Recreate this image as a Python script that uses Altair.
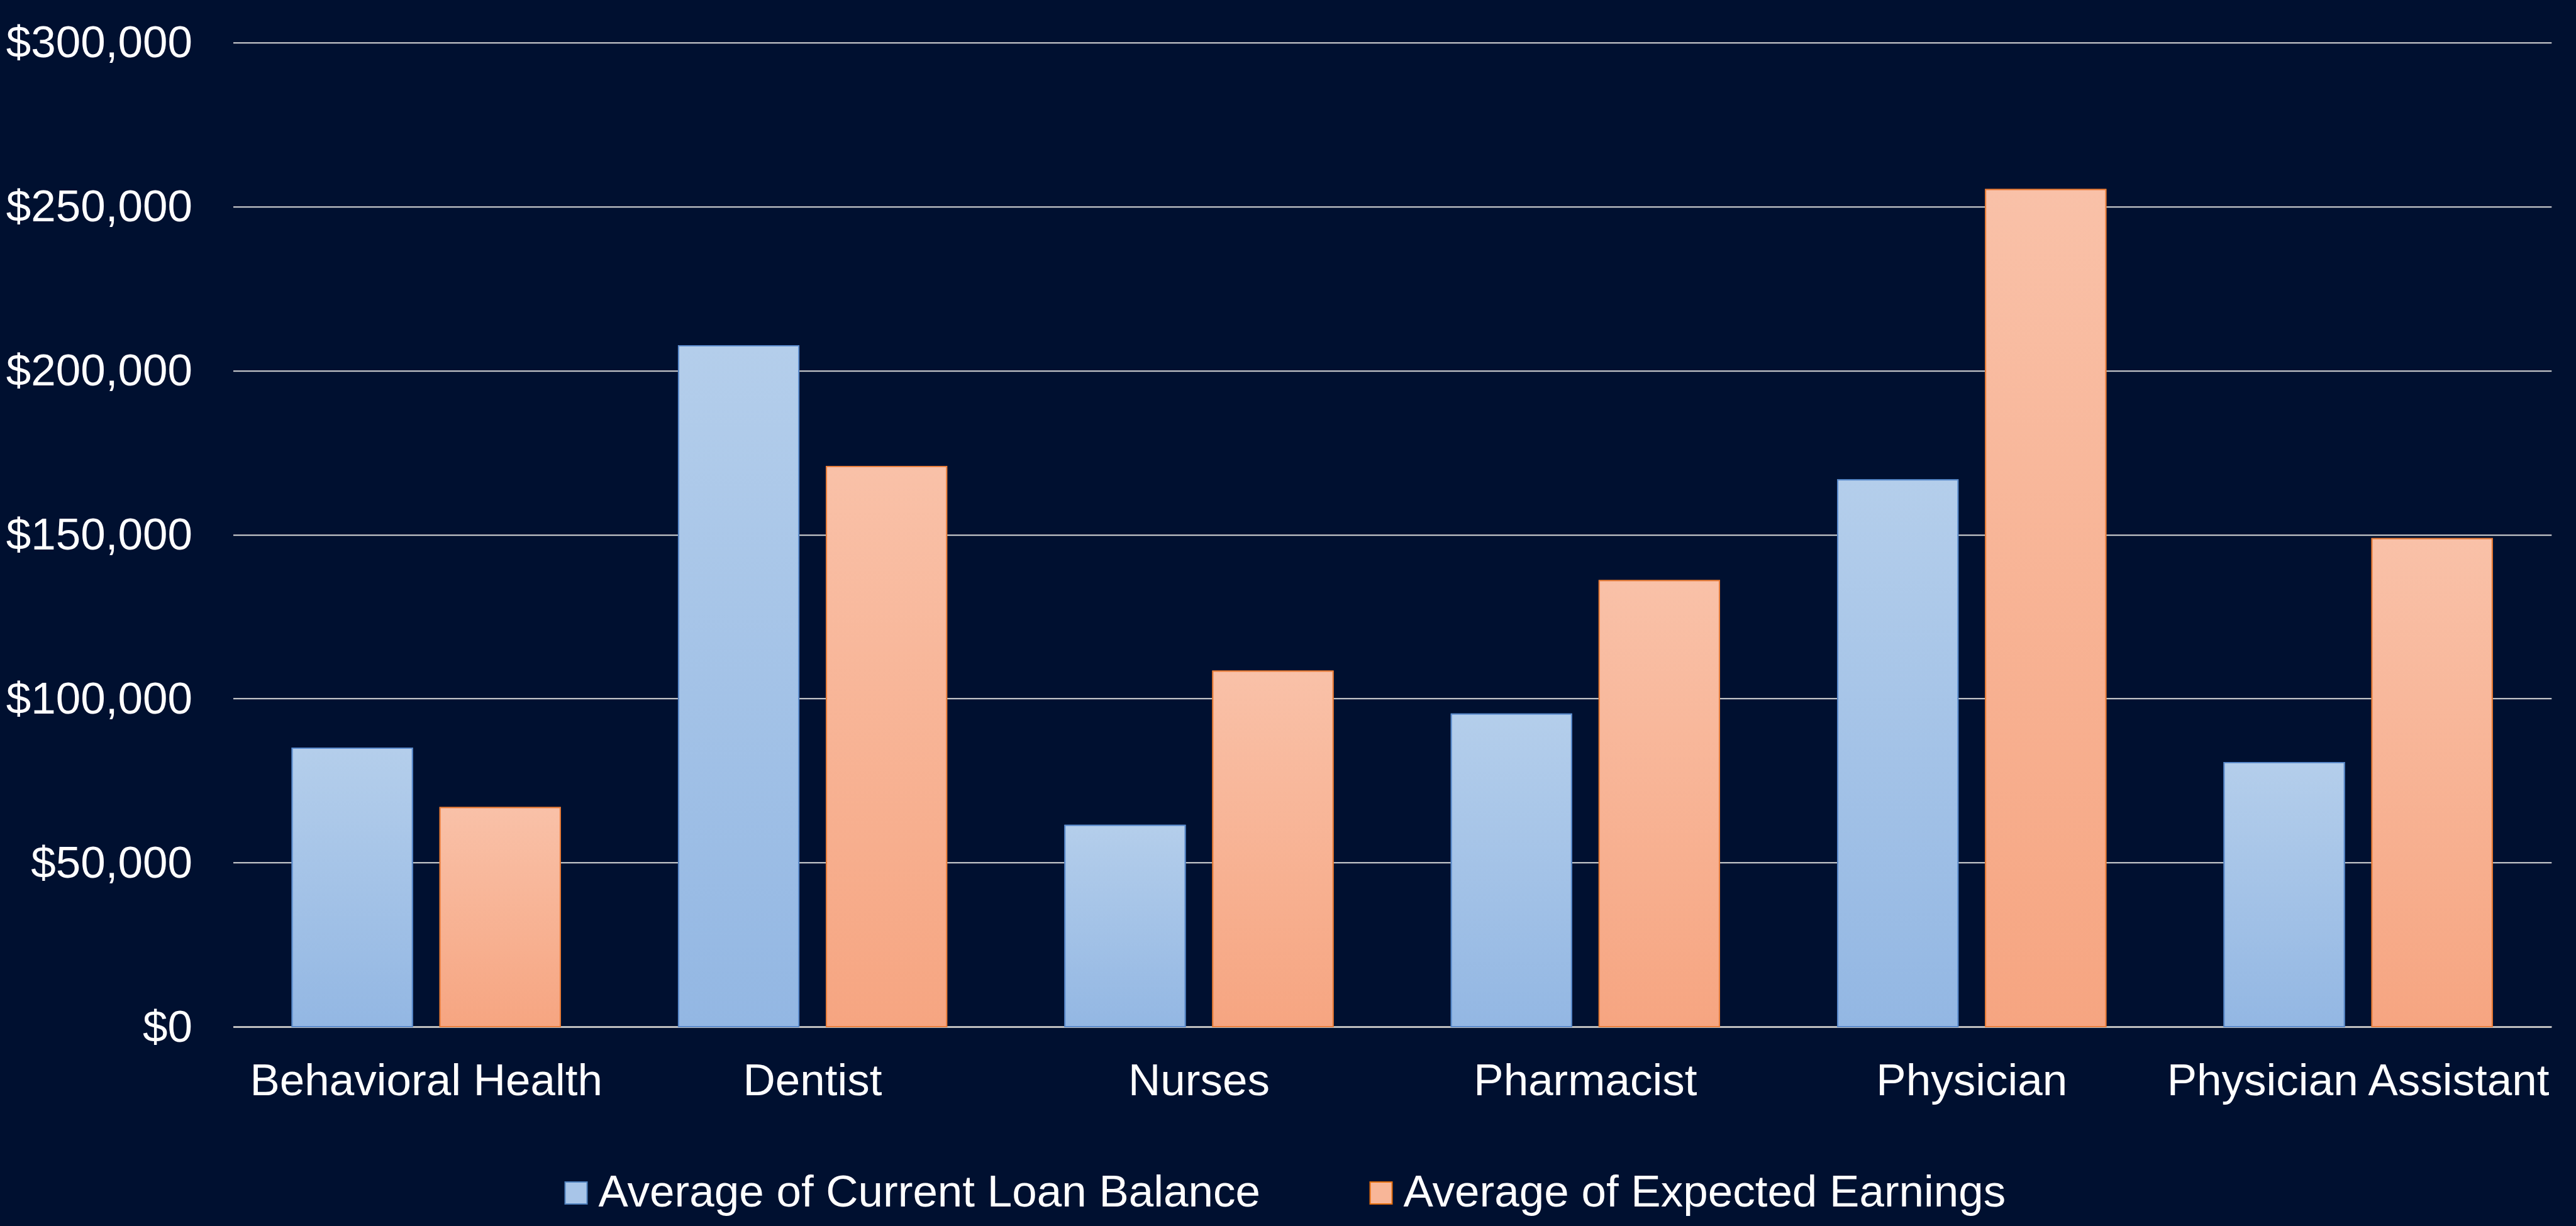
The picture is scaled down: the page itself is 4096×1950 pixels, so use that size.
import altair as alt
import pandas as pd

categories = ["Behavioral Health", "Dentist", "Nurses", "Pharmacist", "Physician", "Physician Assistant"]
series_names = ["Average of Current Loan Balance", "Average of Expected Earnings"]
loan_balance = [84900, 207600, 61400, 95300, 166700, 80500]
expected_earnings = [66800, 170800, 108400, 136000, 255200, 148800]
y_ticks = [0, 50000, 100000, 150000, 200000, 250000, 300000]

rows = []
for c, a, b in zip(categories, loan_balance, expected_earnings):
    rows.append({"category": c, "series": series_names[0], "value": a})
    rows.append({"category": c, "series": series_names[1], "value": b})
df = pd.DataFrame(rows)

FONT = "Liberation Sans"
FS = 71
BG = "#001030"

blue_grad = {"gradient": "linear", "x1": 0, "y1": 0, "x2": 0, "y2": 1,
             "stops": [{"offset": 0, "color": "#B4CEEB"}, {"offset": 1, "color": "#93B7E3"}]}
orange_grad = {"gradient": "linear", "x1": 0, "y1": 0, "x2": 0, "y2": 1,
               "stops": [{"offset": 0, "color": "#F9C1A8"}, {"offset": 1, "color": "#F6A581"}]}

x_enc = alt.X("category:N", sort=categories,
              scale=alt.Scale(paddingInner=0, paddingOuter=0),
              axis=alt.Axis(title=None, labelAngle=0, labelFont=FONT, labelFontSize=FS,
                            labelColor="white", labelPadding=108, labelBaseline="alphabetic",
                            ticks=False, tickSize=0, domain=True, domainColor="#BFBFBF",
                            domainWidth=3, grid=False, labelLimit=2000))
xoff_enc = alt.XOffset("series:N", sort=series_names,
                       scale=alt.Scale(domain=series_names, paddingInner=0.187, paddingOuter=0.40))
y_enc = alt.Y("value:Q", scale=alt.Scale(domain=[0, 300000], nice=False),
              axis=alt.Axis(title=None, values=y_ticks, format="$,.0f", labelFont=FONT,
                            labelFontSize=FS, labelColor="white", labelPadding=65,
                            labelBaseline="alphabetic", labelOffset=23, labelLimit=2000,
                            ticks=False, tickSize=0, domain=False, grid=True,
                            gridColor="#D9D9D9", gridWidth=2))

legend_kw = dict(title=None, orient="none", legendX=510, legendY=1794,
                 direction="horizontal", symbolType="square",
                 symbolSize=1225, symbolStrokeWidth=2,
                 labelFont=FONT, labelFontSize=FS, labelColor="white",
                 labelOffset=0, columnPadding=156, padding=0, labelLimit=2000)

base = alt.Chart(df).encode(x=x_enc, xOffset=xoff_enc, y=y_enc)

legend_layer = base.mark_bar(strokeWidth=2).encode(
    color=alt.Color("series:N",
                    scale=alt.Scale(domain=series_names, range=["#A8C5E8", "#F8B698"]),
                    legend=alt.Legend(**legend_kw)),
    stroke=alt.Stroke("series:N",
                      scale=alt.Scale(domain=series_names, range=["#4F81BD", "#E46C0A"]),
                      legend=alt.Legend(**legend_kw)),
)

test = f"datum.series == '{series_names[0]}'"
grad_layer = base.mark_bar(strokeWidth=2).encode(
    fill=alt.condition(test, alt.value(blue_grad), alt.value(orange_grad)),
    stroke=alt.condition(test, alt.value("#5A8ACB"), alt.value("#E97E3C")),
)

chart = alt.layer(legend_layer, grad_layer).properties(
    width=3686.3, height=1565.2,
    autosize=alt.AutoSizeParams(type="none"),
    padding={"left": 370.5, "top": 67.8, "right": 39.2, "bottom": 317},
    background=BG,
).configure_view(stroke=None)

chart.save("out.html", embed_options={"renderer": "svg", "actions": False})
